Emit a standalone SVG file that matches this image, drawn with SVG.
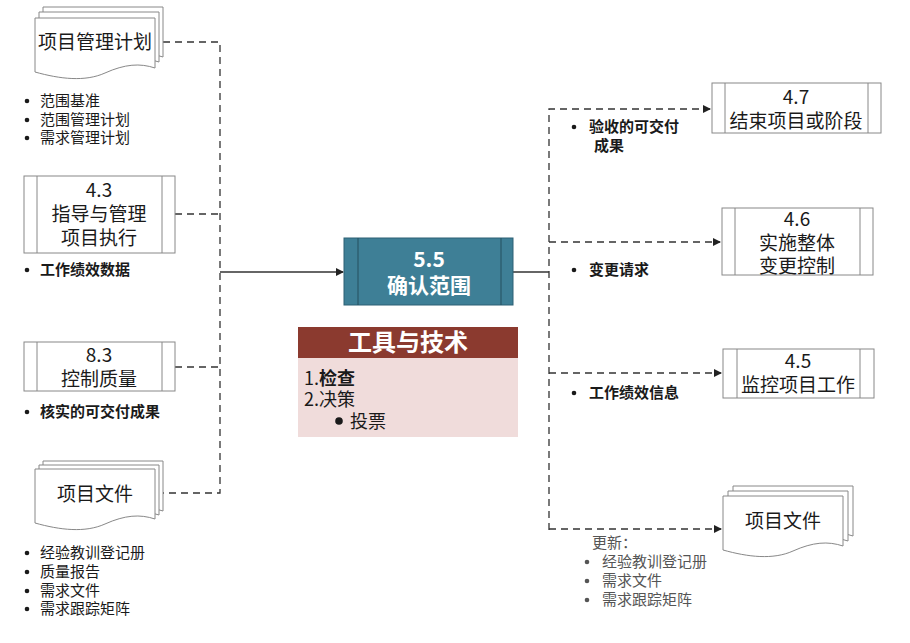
<svg xmlns="http://www.w3.org/2000/svg" width="910" height="643" viewBox="0 0 910 643">
<defs>
<style>
text{font-family:"Noto Sans CJK SC","Microsoft YaHei",sans-serif;fill:#1a1a1a}
.n{font-size:19px;text-anchor:middle}
.b{font-size:15px}
.bb{font-size:15px;font-weight:bold}
.g{font-size:15px;fill:#555}
.box{fill:#fff;stroke:#888;stroke-width:1}
.page{fill:#fff;stroke:#888;stroke-width:1}
.dash{fill:none;stroke:#333;stroke-width:1.3;stroke-dasharray:7,5}
.solid{fill:none;stroke:#333;stroke-width:1.3}
</style>
<path id="doc" d="M0,0 H120 V50 C105,45 90,46 70,55 C50,64 25,61 0,54 Z"/>
<marker id="arr" markerWidth="8" markerHeight="8" refX="7" refY="4" orient="auto" markerUnits="userSpaceOnUse">
<path d="M0,0 L8,4 L0,8 Z" fill="#222"/>
</marker>
</defs>
<rect width="910" height="643" fill="#fff"/>

<g id="connectors">
<path class="dash" d="M163,42 H220 V493 H163"/>
<path class="dash" d="M175,214 H220"/>
<path class="dash" d="M175,367 H220"/>
<path class="solid" d="M220,272 H343" marker-end="url(#arr)"/>
<path class="solid" d="M513,272 H549"/>
<path class="dash" d="M549,530 V109 H710" marker-end="url(#arr)"/>
<path class="dash" d="M549,242 H720" marker-end="url(#arr)"/>
<path class="dash" d="M549,373 H721" marker-end="url(#arr)"/>
<path class="dash" d="M549,529 H721" marker-end="url(#arr)"/>
</g>

<g id="doc-plan">
<use href="#doc" class="page" x="43" y="7"/>
<use href="#doc" class="page" x="39" y="12"/>
<use href="#doc" class="page" x="35" y="18"/>
<text class="n" x="95" y="49">项目管理计划</text>
<circle cx="27" cy="101" r="2.3" fill="#1a1a1a"/>
<circle cx="27" cy="120" r="2.3" fill="#1a1a1a"/>
<circle cx="27" cy="138" r="2.3" fill="#1a1a1a"/>
<text class="b" x="40" y="106">范围基准</text>
<text class="b" x="40" y="125">范围管理计划</text>
<text class="b" x="40" y="143">需求管理计划</text>
</g>

<g id="node-43">
<rect class="box" x="24" y="176" width="151" height="77"/>
<line x1="37" y1="176" x2="37" y2="253" stroke="#888"/>
<line x1="162" y1="176" x2="162" y2="253" stroke="#888"/>
<text class="n" x="99" y="197">4.3</text>
<text class="n" x="99" y="221">指导与管理</text>
<text class="n" x="99" y="245">项目执行</text>
<circle cx="27" cy="270" r="2.3" fill="#1a1a1a"/>
<text class="bb" x="40" y="275">工作绩效数据</text>
</g>

<g id="node-83">
<rect class="box" x="24" y="342" width="151" height="49"/>
<line x1="37" y1="342" x2="37" y2="391" stroke="#888"/>
<line x1="162" y1="342" x2="162" y2="391" stroke="#888"/>
<text class="n" x="99" y="362">8.3</text>
<text class="n" x="99" y="386">控制质量</text>
<circle cx="27" cy="412" r="2.3" fill="#1a1a1a"/>
<text class="bb" x="40" y="417">核实的可交付成果</text>
</g>

<g id="doc-files-in">
<use href="#doc" class="page" x="43" y="461"/>
<use href="#doc" class="page" x="39" y="465"/>
<use href="#doc" class="page" x="35" y="469"/>
<text class="n" x="95" y="501">项目文件</text>
<circle cx="27" cy="553" r="2.3" fill="#1a1a1a"/>
<circle cx="27" cy="572" r="2.3" fill="#1a1a1a"/>
<circle cx="27" cy="591" r="2.3" fill="#1a1a1a"/>
<circle cx="27" cy="609" r="2.3" fill="#1a1a1a"/>
<text class="b" x="40" y="558">经验教训登记册</text>
<text class="b" x="40" y="577">质量报告</text>
<text class="b" x="40" y="596">需求文件</text>
<text class="b" x="40" y="614">需求跟踪矩阵</text>
</g>

<g id="node-55">
<rect x="344" y="238" width="169" height="67" fill="#3e7f96" stroke="#2d6175" stroke-width="1"/>
<line x1="358" y1="238" x2="358" y2="305" stroke="#24505f"/>
<line x1="501" y1="238" x2="501" y2="305" stroke="#24505f"/>
<text x="429" y="267" style="font-size:21px;font-weight:bold;fill:#fff;text-anchor:middle">5.5</text>
<text x="429" y="293" style="font-size:21px;font-weight:bold;fill:#fff;text-anchor:middle">确认范围</text>
</g>

<g id="tools">
<rect x="298" y="327" width="220" height="31" fill="#8b3a2f"/>
<rect x="298" y="358" width="220" height="79" fill="#f0dcdb"/>
<text x="408" y="351" style="font-size:24px;font-weight:bold;fill:#fff;text-anchor:middle">工具与技术</text>
<text x="304" y="385" style="font-size:18px">1.<tspan font-weight="bold">检查</tspan></text>
<text x="304" y="406" style="font-size:18px">2.决策</text>
<circle cx="339" cy="421" r="3.8" fill="#1a1a1a"/>
<text x="350" y="428" style="font-size:18px">投票</text>
</g>

<g id="node-47">
<rect class="box" x="712" y="83" width="169" height="50"/>
<line x1="725" y1="83" x2="725" y2="133" stroke="#888"/>
<line x1="868" y1="83" x2="868" y2="133" stroke="#888"/>
<text class="n" x="796" y="104">4.7</text>
<text class="n" x="796" y="128">结束项目或阶段</text>
<circle cx="574" cy="127" r="2.3" fill="#1a1a1a"/>
<text class="bb" x="589" y="132">验收的可交付</text>
<text class="bb" x="594" y="151">成果</text>
</g>

<g id="node-46">
<rect class="box" x="722" y="208" width="151" height="67"/>
<line x1="735" y1="208" x2="735" y2="275" stroke="#888"/>
<line x1="860" y1="208" x2="860" y2="275" stroke="#888"/>
<text class="n" x="797" y="226">4.6</text>
<text class="n" x="797" y="250">实施整体</text>
<text class="n" x="797" y="273">变更控制</text>
<circle cx="574" cy="270" r="2.3" fill="#1a1a1a"/>
<text class="bb" x="589" y="275">变更请求</text>
</g>

<g id="node-45">
<rect class="box" x="723" y="349" width="151" height="49"/>
<line x1="737" y1="349" x2="737" y2="398" stroke="#888"/>
<line x1="860" y1="349" x2="860" y2="398" stroke="#888"/>
<text class="n" x="798" y="368">4.5</text>
<text class="n" x="798" y="392">监控项目工作</text>
<circle cx="574" cy="393" r="2.3" fill="#1a1a1a"/>
<text class="bb" x="589" y="398">工作绩效信息</text>
</g>

<g id="doc-files-out">
<use href="#doc" class="page" x="733" y="486"/>
<use href="#doc" class="page" x="728" y="491"/>
<use href="#doc" class="page" x="723" y="496"/>
<text class="n" x="783" y="528">项目文件</text>
<text class="g" x="592" y="548">更新：</text>
<circle cx="587" cy="562" r="2.3" fill="#555"/>
<circle cx="587" cy="581" r="2.3" fill="#555"/>
<circle cx="587" cy="600" r="2.3" fill="#555"/>
<text class="g" x="602" y="567">经验教训登记册</text>
<text class="g" x="602" y="586">需求文件</text>
<text class="g" x="602" y="605">需求跟踪矩阵</text>
</g>
</svg>
